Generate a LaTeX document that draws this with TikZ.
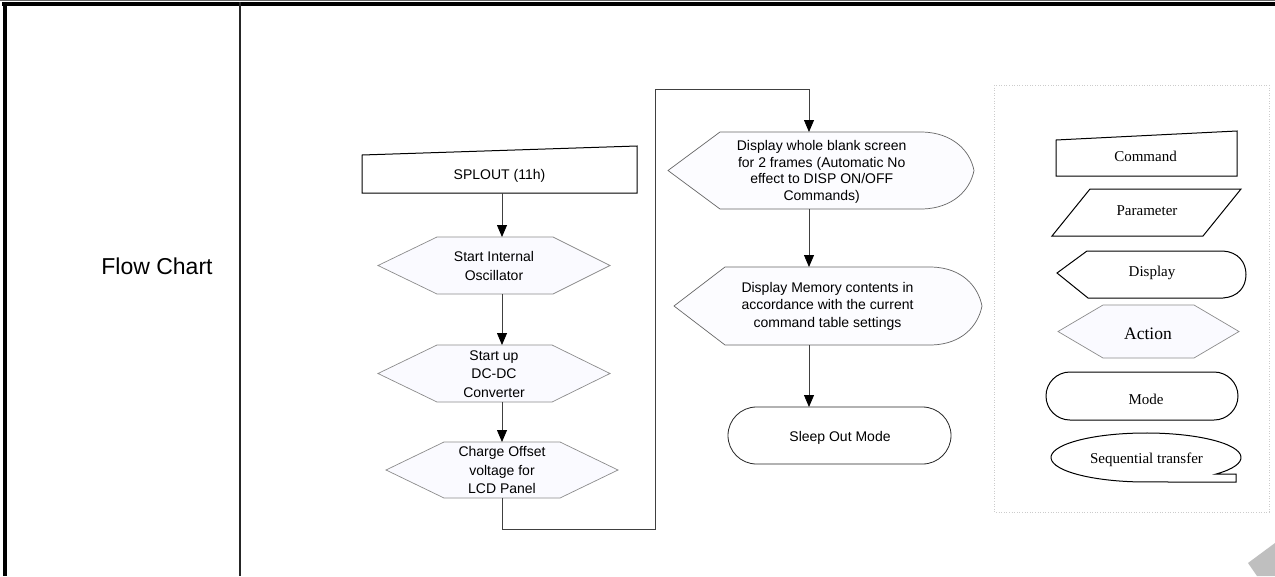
\documentclass[tikz,border=0pt]{standalone}
\usepackage{fontspec}
\setmainfont{Liberation Sans}
\newfontfamily\legfont{Liberation Serif}
\usetikzlibrary{arrows.meta}
\begin{document}
\begin{tikzpicture}[x=1pt,y=-1pt,
 conn/.style={draw=black!75, line width=0.8pt},
 arr/.style={conn,-{Triangle[width=10pt,length=12pt,color=black]}},
 hexa/.style={draw=black!45, fill=blue!2!white, line width=0.7pt},
 disp/.style={draw=black!60, fill=blue!1!white, line width=0.7pt},
 blk/.style={draw=black, line width=1pt, fill=white},
 lbl/.style={font=\fontsize{14}{17.5}\selectfont, align=center, inner sep=0pt},
 dlbl/.style={font=\fontsize{14}{16.7}\selectfont, align=center, inner sep=0pt},
 hlbl/.style={font=\fontsize{14}{18.5}\selectfont, align=center, inner sep=0pt},
 leg/.style={font=\legfont\fontsize{15}{17}\selectfont, inner sep=0pt, anchor=base},
]
\useasboundingbox (0,0) rectangle (1275,576);
\fill[white] (0,0) rectangle (1275,576);
% table frame
\fill[black!60] (0,0) rectangle (1275,1.2);
\fill[black] (2,2) rectangle (1275,6);
\fill[black] (3,2) rectangle (7,576);
\fill[black!85] (239.3,2) rectangle (240.8,576);
\node[font=\fontsize{23}{27}\selectfont, inner sep=0pt, anchor=base] (title) at (157,274) {Flow Chart};
% page corner mark
\fill[black!25] (1248,563) -- (1275,543) -- (1275,576) -- (1257,576) -- cycle;
% legend box
\draw[black!20, dotted, line width=0.6pt] (994,85) rectangle (1269,512);

% ---- main flow ----
\draw[blk] (362,155) -- (637,146) -- (637,193) -- (362,193) -- cycle;
\node[lbl, anchor=base] (splout) at (499.5,179) {SPLOUT (11h)};
\coordinate (splb) at (502,193);

\draw[hexa] (378,265.5) -- (437,237) -- (553,237) -- (610,265.5) -- (553,294) -- (437,294) -- cycle;
\node[hlbl] (osc) at (494,266) {Start Internal\\Oscillator};
\coordinate (osct) at (502,237);
\coordinate (oscb) at (502,294);

\draw[hexa] (378,373.5) -- (437,345) -- (552,345) -- (610,373.5) -- (552,402) -- (437,402) -- cycle;
\node[hlbl] (dcdc) at (494,374) {Start up\\DC-DC\\Converter};
\coordinate (dct) at (502,345);
\coordinate (dcb) at (502,402);

\draw[hexa] (386,470) -- (444,442) -- (560,442) -- (618,470) -- (560,498) -- (444,498) -- cycle;
\node[hlbl] (lcd) at (502,470) {Charge Offset\\voltage for\\LCD Panel};
\coordinate (lcdt) at (502,442);
\coordinate (lcdb) at (502,498);

\draw[disp] (668,170.5) -- (720,132) -- (923,132) .. controls (952,133) and (970,150) .. (974,170.5) .. controls (970,191) and (952,208) .. (923,209) -- (720,209) -- cycle;
\node[dlbl] (blank) at (821.7,172) {Display whole blank screen\\for 2 frames (Automatic No\\effect to DISP ON/OFF\\Commands)};
\coordinate (d1t) at (809,132);
\coordinate (d1b) at (809,209);

\draw[disp] (674,306) -- (725,267) -- (932,267) .. controls (962,268) and (978,286) .. (982,306) .. controls (978,326) and (962,344) .. (932,345) -- (725,345) -- cycle;
\node[lbl] (mem) at (827.5,306) {Display Memory contents in\\accordance with the current\\command table settings};
\coordinate (d2t) at (809,267);
\coordinate (d2b) at (809,345);

\draw[draw=black!85, line width=0.8pt, fill=white, rounded corners=28.5pt] (728,407) rectangle (951,464);
\node[lbl, anchor=base] (sleep) at (840,441) {Sleep Out Mode};
\coordinate (sleept) at (809,407);

\coordinate (c1) at (655,529);
\coordinate (c2) at (655,89);

\draw[arr] (splb) -- (osct);
\draw[arr] (oscb) -- (dct);
\draw[arr] (dcb) -- (lcdt);
\draw[arr] (lcdb) |- (c1) -- (c2) -| (d1t);
\draw[arr] (d1b) -- (d2t);
\draw[arr] (d2b) -- (sleept);

% ---- legend ----
\draw[blk] (1056,140) -- (1237,131) -- (1237,176) -- (1056,176) -- cycle;
\node[leg] (lcmd) at (1145.5,161) {Command};
\draw[blk] (1090,189) -- (1241,189) -- (1203,236) -- (1052,236) -- cycle;
\node[leg] (lpar) at (1147,215) {Parameter};
\draw[blk] (1057,273) -- (1087,251) -- (1223,251) .. controls (1238,252) and (1246,262) .. (1246,274.5) .. controls (1246,287) and (1238,297) .. (1223,298) -- (1088,298) -- cycle;
\node[leg] (ldisp) at (1152,276.5) {Display};
\draw[hexa] (1058,331.5) -- (1103,305) -- (1194,305) -- (1239,331.5) -- (1194,358) -- (1103,358) -- cycle;
\node[leg, font=\legfont\fontsize{17.5}{20}\selectfont] (lact) at (1148,339) {Action};
\draw[blk, rounded corners=24pt] (1046,372) rectangle (1238,420);
\node[leg] (lmode) at (1146,404) {Mode};
\draw[blk] (1215.5,474.2) arc[start angle=43, end angle=-270, x radius=95, y radius=24.5] -- (1236,482) -- (1236,474.2) -- cycle;
\node[leg] (lseq) at (1146.5,463) {Sequential transfer};
\end{tikzpicture}
\end{document}
